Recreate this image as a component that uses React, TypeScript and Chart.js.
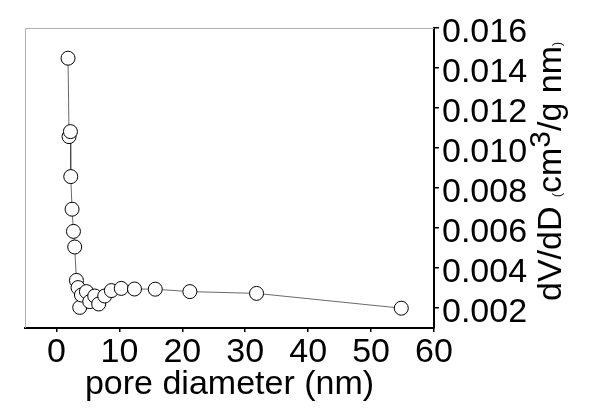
import React, { useEffect, useRef } from "react";
import { Chart, registerables } from "chart.js";

Chart.register(...registerables);

const DIAMETERS = [1.84, 2.0, 2.22, 2.27, 2.48, 2.7, 2.9, 3.17, 3.43, 3.7, 3.97, 4.76, 5.29, 6.08, 6.71, 7.67, 8.73, 10.3, 12.4, 15.7, 21.2, 31.8, 54.8];
const DVDD = [0.01449, 0.01057, 0.01082, 0.00857, 0.00694, 0.00583, 0.00505, 0.00338, 0.00302, 0.00203, 0.00265, 0.00282, 0.00232, 0.0026, 0.0022, 0.0026, 0.00287, 0.00298, 0.00295, 0.00294, 0.00282, 0.00273, 0.00199];
const X_TICKS = [0, 10, 20, 30, 40, 50, 60];
const Y_TICKS = [0.002, 0.004, 0.006, 0.008, 0.01, 0.012, 0.014, 0.016];
const X_TITLE = "pore diameter (nm)";
const FONT = "'Liberation Sans', Arial, sans-serif";

const frame = {
  id: "frame",
  beforeDatasetsDraw(chart: any) {
    const { ctx, chartArea } = chart;
    ctx.save();
    ctx.strokeStyle = "#b0b0b0";
    ctx.lineWidth = 1;
    ctx.beginPath();
    ctx.moveTo(chartArea.left + 0.5, chartArea.bottom);
    ctx.lineTo(chartArea.left + 0.5, chartArea.top + 0.5);
    ctx.lineTo(chartArea.right, chartArea.top + 0.5);
    ctx.stroke();
    ctx.restore();
  },
  afterDraw(chart: any) {
    const { ctx } = chart;
    ctx.save();
    ctx.translate(561, 301);
    ctx.rotate(-Math.PI / 2);
    ctx.fillStyle = "#000";
    ctx.textBaseline = "alphabetic";
    ctx.textAlign = "left";
    let x = 0;
    const piece = (t: string, size: number, dy: number) => {
      ctx.font = `${size}px ${FONT}`;
      ctx.fillText(t, x, dy);
      x += ctx.measureText(t).width;
    };
    piece("dV/dD ", 34, 0);
    piece("(", 12, 0);
    piece("cm", 34, 0);
    piece("3", 30, -11);
    piece("/g nm", 34, 0);
    piece(")", 12, 0);
    ctx.restore();
  },
};

export default function App() {
  const ref = useRef<HTMLCanvasElement>(null);
  useEffect(() => {
    if (!ref.current) return;
    const chart = new Chart(ref.current, {
      type: "scatter",
      data: {
        datasets: [
          {
            data: DIAMETERS.map((d, i) => ({ x: d, y: DVDD[i] })),
            showLine: true,
            borderColor: "#444",
            borderWidth: 0.8,
            pointRadius: 7,
            pointBackgroundColor: "#fff",
            pointBorderColor: "#000",
            pointBorderWidth: 1,
          },
        ],
      },
      options: {
        animation: false,
        responsive: false,
        layout: { padding: { left: 25, top: 28, right: 0, bottom: 0 } },
        plugins: { legend: { display: false }, tooltip: { enabled: false } },
        scales: {
          x: {
            type: "linear",
            min: -5,
            max: 60,
            afterBuildTicks: (s: any) => {
              s.ticks = X_TICKS.map((v) => ({ value: v }));
            },
            afterFit: (s: any) => {
              s.height = 91;
            },
            grid: { display: true, drawOnChartArea: false, drawTicks: true, tickLength: 4, color: "#000", lineWidth: 1.5 },
            border: { display: true, color: "#000", width: 2 },
            ticks: { color: "#000", font: { family: FONT, size: 34 }, padding: 0, maxRotation: 0, autoSkip: false },
            title: { display: true, text: X_TITLE, color: "#000", font: { family: FONT, size: 34 }, padding: { top: 0, bottom: 14 } },
          },
          y: {
            type: "linear",
            position: "right",
            min: 0.001,
            max: 0.016,
            afterBuildTicks: (s: any) => {
              s.ticks = Y_TICKS.map((v) => ({ value: v }));
            },
            afterFit: (s: any) => {
              s.width = 166;
            },
            grid: { display: true, drawOnChartArea: false, drawTicks: true, tickLength: 5, color: "#000", lineWidth: 1.5 },
            border: { display: true, color: "#000", width: 2 },
            ticks: {
              color: "#000",
              font: { family: FONT, size: 34 },
              padding: 3,
              labelOffset: 5,
              autoSkip: false,
              callback: (v: any) => Number(v).toFixed(3),
            },
          },
        },
      },
      plugins: [frame],
    });
    return () => chart.destroy();
  }, []);
  return (
    <div style={{ position: "fixed", left: 0, top: 0, width: 600, height: 419, background: "#fff" }}>
      <canvas ref={ref} width={600} height={419} style={{ width: 600, height: 419 }} />
    </div>
  );
}
